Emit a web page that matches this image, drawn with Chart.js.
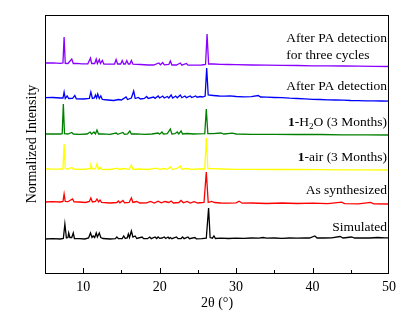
<!DOCTYPE html>
<html>
<head>
<meta charset="utf-8">
<script src="https://cdn.jsdelivr.net/npm/chart.js@4"></script>
<style>
  html, body { margin: 0; padding: 0; background: #fff; }
  canvas { display: block; }
</style>
</head>
<body>
<canvas id="pxrdChart" width="412" height="316"></canvas>
<script>
// PXRD patterns, [2theta, intensity above the series baseline]
var simulated = [[5,0],[6,0.3],[7,0],[7.4,0.5],[7.6,15],[7.8,1],[8.0,1.5],[8.1,6],[8.25,1.5],[8.5,1.5],[8.7,6],[8.85,0.5],[9.5,0.3],[10.2,0],[10.7,1],[10.95,6],[11.15,1.5],[11.3,3],[11.5,1.5],[11.7,6],[11.85,2],[12.1,6],[12.3,1.5],[12.6,0.5],[13.5,0],[14.2,0.3],[14.4,2],[14.6,0.3],[15.1,0.5],[15.3,3],[15.5,0.5],[15.75,1],[15.9,5],[16.05,1.5],[16.3,8],[16.5,2],[16.8,3],[17.0,0.5],[17.7,2],[17.9,0.3],[18.4,0.3],[18.7,2],[18.9,0.3],[19.4,2],[19.6,0.5],[19.8,2],[20.0,0.6],[20.3,1],[20.6,2],[20.8,0.5],[21.1,2],[21.25,0.5],[21.4,1.5],[21.6,0.3],[22.2,2],[22.4,0.3],[22.8,0.5],[23.0,2],[23.2,0.3],[23.7,2],[23.9,0.3],[24.6,1.5],[24.8,0.2],[25.5,0.3],[26.1,0.8],[26.4,31],[26.6,1.5],[26.9,0.8],[27.1,3],[27.3,0.5],[28,0.8],[29,0.5],[30,0.8],[31,0.6],[32,1],[33,0.8],[33.5,1.5],[34,0.8],[35,1],[36,0.7],[37,1],[38,0.8],[39,1.2],[39.6,1],[40.3,3],[40.6,1],[41.5,1],[42.5,1.2],[43.6,2.5],[44,1],[45.1,2],[45.5,1],[46.5,1.2],[47.5,1],[48.5,1.5],[49.5,1.2],[50,1.2]];

var asSynthesized = [[5,0],[6,0.3],[7,0],[7.35,0.5],[7.5,8],[7.65,0.5],[8.0,0.3],[8.6,3],[8.8,0.2],[9.5,0],[10.3,-0.5],[10.8,0.5],[11.0,4],[11.2,0],[11.6,0.5],[11.8,3],[12.0,0.2],[12.2,2],[12.4,-0.3],[13.5,-1],[14.4,-0.5],[14.6,1],[14.8,-0.8],[15.2,1.5],[15.4,-0.8],[16.0,-0.5],[16.3,4],[16.5,-0.5],[17.0,0.5],[17.4,-1],[18.3,-0.8],[18.8,0.5],[19.3,-1],[19.8,0.8],[20.2,-0.8],[20.7,0.5],[21.2,-0.5],[21.5,1],[21.8,-1],[22.5,-0.5],[22.8,1.5],[23.1,-0.8],[23.6,0.5],[24.0,-1],[24.5,0.3],[25.0,-1],[25.8,-0.5],[26.1,30],[26.35,-0.5],[26.8,0.5],[27.2,-0.5],[28,-1],[29,-1.2],[30,-0.8],[30.4,0.8],[30.8,-1.2],[32,-1],[34,-1.5],[36,-1],[38,-1.5],[40,-1.2],[42,-1.6],[43.8,-0.2],[44.2,-1.6],[46,-1.8],[47.6,-0.3],[48,-1.8],[50,-2]];

var airAged = [[5,0],[6,-0.2],[7,0],[7.35,0.2],[7.5,25],[7.65,0.3],[8.0,0],[8.5,1.5],[8.7,0],[9.5,-0.3],[10.5,0],[10.9,0.5],[11.0,4],[11.2,0],[11.6,0.3],[11.8,5],[12.0,0],[12.2,1.5],[12.4,-0.3],[13.5,-0.5],[14.5,0.8],[14.7,-0.5],[15.3,0.5],[16.0,-0.3],[16.3,4],[16.5,-0.3],[17.2,0],[18.5,-0.5],[19.5,0.8],[20.0,-0.3],[20.5,0.5],[21.0,-0.3],[21.4,2],[21.6,-0.3],[22.2,0.3],[22.7,3],[22.9,-0.2],[23.5,0.5],[24.2,-0.3],[25,0],[25.9,0],[26.1,31],[26.3,0.3],[27,0.3],[28,0],[30,-0.3],[32,-0.3],[35,-0.5],[38,-0.5],[41,-0.6],[44,-0.8],[47,-0.8],[50,-1]];

var waterAged = [[5,0],[6,0.2],[7,0],[7.25,0.3],[7.4,30],[7.55,0.3],[8.0,0],[8.5,1.5],[8.7,0],[9.5,-0.3],[10.5,0],[10.9,2],[11.1,0],[11.4,2],[11.6,0],[11.8,4],[12.0,0],[12.5,0.2],[13.5,-0.3],[14.3,1],[14.5,-0.3],[15.2,1.5],[15.4,-0.3],[15.8,0],[16.1,3],[16.3,0],[17,0.2],[18,-0.3],[19,0],[19.8,1],[20.0,-0.2],[20.3,2],[20.5,0],[21.0,0.3],[21.4,5],[21.6,0],[22.0,0.3],[22.3,2],[22.5,0],[22.8,3],[23.0,0],[23.6,0.5],[24.5,0],[25,0.2],[25.9,0.3],[26.1,25],[26.3,0.5],[27,0.3],[28,1],[28.4,0],[29.5,0.8],[30,0],[32,-0.3],[35,-0.3],[38,-0.5],[41,-0.5],[44,-0.8],[47,-0.8],[50,-1]];

var afterPA = [[5,0.3],[6,0.5],[7,0],[7.35,0],[7.5,6],[7.65,-0.5],[7.9,2],[8.1,-0.5],[8.6,-0.3],[8.9,2.5],[9.1,-0.8],[10,-1],[10.8,-0.5],[11.0,6],[11.2,-0.5],[11.45,0],[11.6,3],[11.75,0],[11.9,4],[12.1,-0.5],[12.3,2],[12.5,-1.5],[13.2,-2],[14,-2.5],[14.6,-1.5],[15,-2],[15.6,1],[15.8,-1.5],[16.3,0],[16.6,7],[16.8,-0.5],[17.2,0.5],[17.5,-1],[18,-0.5],[18.3,1.5],[18.5,-0.5],[19.2,1],[19.4,-0.3],[19.8,2],[20.0,0],[20.4,2],[20.6,0],[21.0,1.5],[21.2,0],[21.5,3],[21.7,0],[22.1,2],[22.3,0.2],[22.7,3],[22.9,0.3],[23.3,2],[23.5,0.3],[24,2],[24.2,0.5],[24.7,2],[24.9,0.8],[25.3,1.5],[25.6,1],[25.95,2],[26.15,30],[26.35,3],[27,2.5],[27.8,2],[28.5,1.8],[29.2,2.2],[30,1.5],[31,1.2],[32,1.3],[32.9,2.5],[33.2,1],[34,0.8],[35,0.5],[36,0.3],[37,-0.2],[38,-0.5],[39,-0.8],[40,-1.3],[41,-1.5],[42,-1.8],[43,-2],[44,-2.2],[45,-2.5],[46,-2.6],[47,-2.8],[48,-2.9],[49,-3],[50,-3.2]];

var afterPA3 = [[5,0],[6,0.2],[7,-0.3],[7.35,0],[7.5,26],[7.65,-0.3],[8.0,-0.5],[8.5,4],[8.7,-0.5],[9.2,-0.3],[9.8,-0.8],[10.6,-0.8],[10.95,5],[11.1,-0.5],[11.5,-0.5],[11.7,4],[11.85,-0.5],[12.1,3.5],[12.25,-0.5],[12.5,2.5],[12.7,-1],[13.5,-1.2],[14.1,-1],[14.3,3.5],[14.5,-1],[14.9,-1],[15.1,2.5],[15.3,-1],[15.5,-1],[15.7,2.5],[15.9,-1],[16.1,-1],[16.3,2.5],[16.5,-1.2],[17.5,-1.5],[18.5,-2],[19.2,-2],[19.9,0],[20.1,-1.8],[20.4,0.5],[20.6,-1.8],[21.2,-1.5],[21.4,2],[21.6,-2],[22.2,-2],[22.7,0],[22.9,-2.2],[23.5,-0.5],[23.7,-2.2],[24.5,-2.2],[25.5,-2],[26.0,-1.5],[26.2,29],[26.4,-1],[27,-1],[28,-1.3],[29,-1.5],[30,-1.7],[32,-2],[34,-2.2],[36,-2.3],[38,-2.5],[40,-2.8],[42,-2.9],[44,-3],[46,-3.2],[48,-3.4],[50,-3.5]];

// stacking offsets of each pattern (bottom to top)
var offsets = [34, 71, 104, 139, 175, 210];
var xTicks = [10, 20, 30, 40, 50];

var patterns = [simulated, asSynthesized, airAged, waterAged, afterPA, afterPA3];
var colors = ['#000000', '#ff0000', '#ffff00', '#008000', '#0000ff', '#8a00ff'];

// label lines, each line is a list of [text, style]
var seriesLabels = [
    [[['Simulated']]],
    [[['As synthesized']]],
    [[['1', 'b'], ['-air (3 Months)']]],
    [[['1', 'b'], ['-H'], ['2', 'sub'], ['O (3 Months)']]],
    [[['After PA detection']]],
    [[['After PA detection']], [['for three cycles']]]
];

var serif = "'Liberation Serif', 'Times New Roman', serif";

function partFont(style) {
    if (style === 'b') return 'bold 13.5px ' + serif;
    if (style === 'sub') return '9px ' + serif;
    return '13.5px ' + serif;
}

function lineWidth(ctx, parts) {
    var w = 0;
    parts.forEach(function(p) {
        ctx.font = partFont(p[1]);
        w += ctx.measureText(p[0]).width;
    });
    return w;
}

function drawLine(ctx, parts, x, y) {
    parts.forEach(function(p) {
        ctx.font = partFont(p[1]);
        ctx.fillText(p[0], x, p[1] === 'sub' ? y + 4 : y);
        x += ctx.measureText(p[0]).width;
    });
}

var labelPlugin = {
    id: 'seriesLabels',
    afterDatasetsDraw: function(chart) {
        var ctx = chart.ctx;
        var area = chart.chartArea;
        var yScale = chart.scales.y;
        var right = area.right - 2;
        ctx.save();
        ctx.fillStyle = '#000';
        ctx.textBaseline = 'middle';
        ctx.textAlign = 'left';
        seriesLabels.forEach(function(lines, i) {
            var base = yScale.getPixelForValue(offsets[i]);
            if (lines.length === 1) {
                var w = lineWidth(ctx, lines[0]);
                drawLine(ctx, lines[0], right - w, base - 11.5);
            } else {
                // two line label, left aligned on first line
                var left = right - lineWidth(ctx, lines[0]);
                drawLine(ctx, lines[0], left, base - 25);
                drawLine(ctx, lines[1], left, base - 8);
            }
        });
        ctx.restore();
    }
};

var framePlugin = {
    id: 'frame',
    afterDraw: function(chart) {
        var ctx = chart.ctx;
        var a = chart.chartArea;
        var xScale = chart.scales.x;
        ctx.save();
        ctx.strokeStyle = '#000';
        ctx.lineWidth = 1;
        ctx.strokeRect(a.left + 0.5, a.top + 0.5, a.right - a.left - 1, a.bottom - a.top);
        // inward ticks, major every 10, minor every 5
        ctx.beginPath();
        for (var v = 10; v < 50; v += 5) {
            var px = Math.round(xScale.getPixelForValue(v)) + 0.5;
            var len = (v % 10 === 0) ? 5 : 3;
            ctx.moveTo(px, a.bottom);
            ctx.lineTo(px, a.bottom - len);
        }
        ctx.stroke();
        ctx.restore();
    }
};

var datasets = patterns.map(function(pts, i) {
    return {
        data: pts.map(function(p) { return { x: p[0], y: p[1] + offsets[i] }; }),
        borderColor: colors[i],
        borderWidth: 1.3,
        pointRadius: 0,
        tension: 0,
        fill: false
    };
});

var ctx = document.getElementById('pxrdChart').getContext('2d');
new Chart(ctx, {
    type: 'line',
    data: { datasets: datasets },
    options: {
        responsive: false,
        animation: false,
        layout: { padding: { left: 0, right: 23, top: 15, bottom: 0 } },
        plugins: {
            legend: { display: false },
            tooltip: { enabled: false }
        },
        scales: {
            x: {
                type: 'linear',
                min: 5,
                max: 50,
                afterFit: function(scale) { scale.height = 43; },
                afterBuildTicks: function(scale) {
                    scale.ticks = xTicks.map(function(v) { return { value: v }; });
                },
                grid: { display: false, drawTicks: false },
                border: { display: false },
                ticks: {
                    autoSkip: false,
                    maxRotation: 0,
                    padding: 6,
                    color: '#000',
                    font: { family: serif, size: 14 }
                },
                title: {
                    display: true,
                    text: '2θ (°)',
                    color: '#000',
                    font: { family: serif, size: 14 },
                    padding: { top: 0, bottom: 4 }
                }
            },
            y: {
                min: 0,
                max: 258,
                afterFit: function(scale) { scale.width = 45; },
                grid: { display: false, drawTicks: false },
                border: { display: false },
                ticks: { display: false },
                title: {
                    display: true,
                    text: 'Normalized Intensity',
                    color: '#000',
                    font: { family: serif, size: 14 },
                    padding: { top: 24, bottom: 0 }
                }
            }
        }
    },
    plugins: [labelPlugin, framePlugin]
});
</script>
</body>
</html>
